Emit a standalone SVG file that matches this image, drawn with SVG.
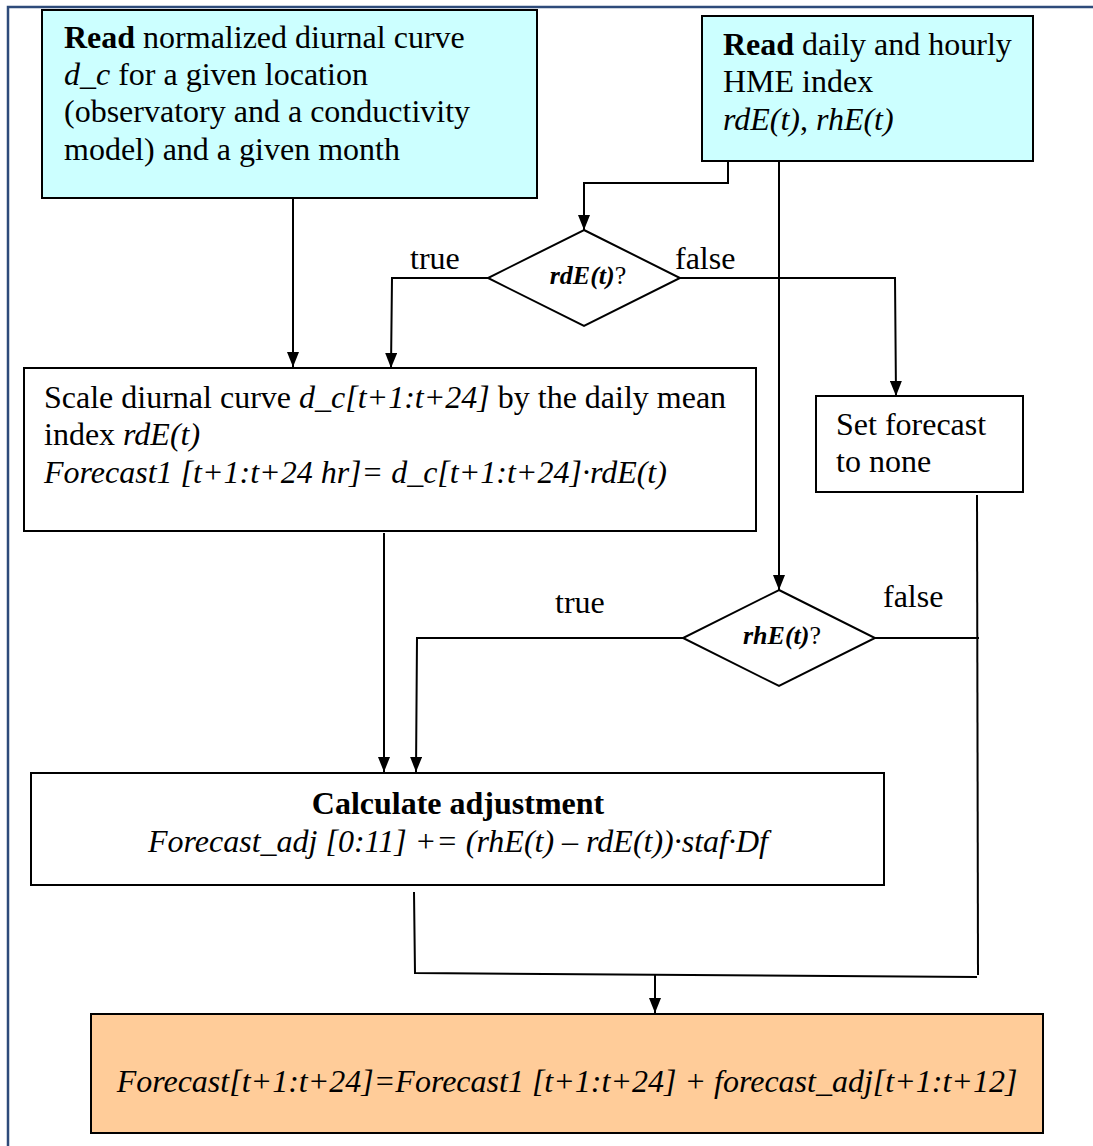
<svg xmlns="http://www.w3.org/2000/svg" width="1093" height="1146" viewBox="0 0 1093 1146">
  <style>
    text { font-family: "Liberation Serif", "Times New Roman", serif; fill: #000; }
    .t { font-size: 32px; }
    .lbl { font-size: 32px; }
    .dq { font-size: 26px; }
    .b { font-weight: bold; }
    .i { font-style: italic; }
    .box { stroke: #000; stroke-width: 2; }
    .cyan { fill: #ccffff; }
    .white { fill: #ffffff; }
    .orange { fill: #ffcc99; }
    .conn { fill: none; stroke: #000; stroke-width: 2; }
  </style>
  <defs>
    <marker id="arrow" viewBox="0 0 15 12" refX="15" refY="6" markerWidth="15" markerHeight="12" markerUnits="userSpaceOnUse" orient="auto">
      <path d="M0,0 L15,6 L0,12 Z" fill="#000"/>
    </marker>
  </defs>

  <rect width="1093" height="1146" fill="#ffffff"/>
  <!-- outer frame -->
  <path d="M8,1146 L8,7 L1093,7" fill="none" stroke="#2e4b7a" stroke-width="2.5"/>

  <g id="read-curve">
    <rect class="box cyan" x="42" y="10" width="495" height="188"/>
    <text class="t" x="64" y="48"><tspan class="b">Read</tspan> normalized diurnal curve</text>
    <text class="t" x="64" y="85"><tspan class="i">d_c</tspan> for a given location</text>
    <text class="t" x="64" y="122">(observatory and a conductivity</text>
    <text class="t" x="64" y="160">model) and a given month</text>
  </g>

  <g id="read-index">
    <rect class="box cyan" x="702" y="16" width="331" height="145"/>
    <text class="t" x="723" y="55"><tspan class="b">Read</tspan> daily and hourly</text>
    <text class="t" x="723" y="92">HME index</text>
    <text class="t" x="723" y="130"><tspan class="i">rdE(t)</tspan>, <tspan class="i">rhE(t)</tspan></text>
  </g>

  <g id="check-daily">
    <polygon class="box white" points="584,230 680,278 584,326 488,278"/>
    <text class="dq" x="588" y="284" text-anchor="middle"><tspan class="b i">rdE(t)</tspan>?</text>
  </g>

  <g id="scale-curve">
    <rect class="box white" x="24" y="368" width="732" height="163"/>
    <text class="t" x="44" y="408">Scale diurnal curve <tspan class="i">d_c[t+1:t+24]</tspan> by the daily mean</text>
    <text class="t" x="44" y="445">index <tspan class="i">rdE(t)</tspan></text>
    <text class="t i" x="44" y="483">Forecast1 [t+1:t+24 hr]= d_c[t+1:t+24]·rdE(t)</text>
  </g>

  <g id="set-none">
    <rect class="box white" x="816" y="396" width="207" height="96"/>
    <text class="t" x="836" y="435">Set forecast</text>
    <text class="t" x="836" y="472">to none</text>
  </g>

  <g id="check-hourly">
    <polygon class="box white" points="779,590 875,638 779,686 683,638"/>
    <text class="dq" x="782" y="644" text-anchor="middle"><tspan class="b i">rhE(t)</tspan>?</text>
  </g>

  <g id="adjustment">
    <rect class="box white" x="31" y="773" width="853" height="112"/>
    <text class="t b" x="458" y="814" text-anchor="middle">Calculate adjustment</text>
    <text class="t i" x="458" y="852" text-anchor="middle">Forecast_adj [0:11] += (rhE(t) – rdE(t))·staf·Df</text>
  </g>

  <g id="forecast">
    <rect class="box orange" x="91" y="1014" width="952" height="119"/>
    <text class="t i" x="567" y="1092" text-anchor="middle">Forecast[t+1:t+24]=Forecast1 [t+1:t+24] + forecast_adj[t+1:t+12]</text>
  </g>

  <g id="connectors">
    <path class="conn" d="M293,198 L293,367" marker-end="url(#arrow)"/>
    <path class="conn" d="M728,161 L728,183 L584,183 L584,230" marker-end="url(#arrow)"/>
    <path class="conn" d="M488,278 L392,278 L391,368" marker-end="url(#arrow)"/>
    <path class="conn" d="M680,278 L895,278 L896,396" marker-end="url(#arrow)"/>
    <path class="conn" d="M779,161 L779,590" marker-end="url(#arrow)"/>
    <path class="conn" d="M384,533 L384,772" marker-end="url(#arrow)"/>
    <path class="conn" d="M683,638 L417,638 L416,772" marker-end="url(#arrow)"/>
    <path class="conn" d="M875,638 L979,638"/>
    <path class="conn" d="M977,495 L978,975"/>
    <path class="conn" d="M414,892 L415,973 L977,977"/>
    <path class="conn" d="M655,975 L655,1013" marker-end="url(#arrow)"/>

    <text class="lbl" x="410" y="269">true</text>
    <text class="lbl" x="675" y="269">false</text>
    <text class="lbl" x="555" y="613">true</text>
    <text class="lbl" x="883" y="607">false</text>
  </g>
</svg>
